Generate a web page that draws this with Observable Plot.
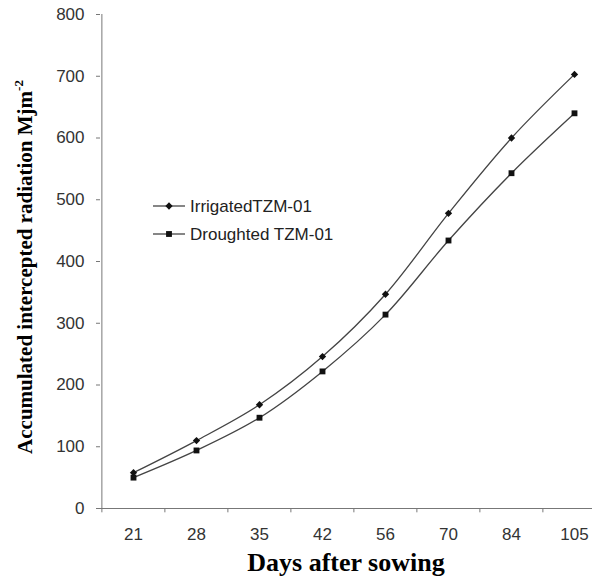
<!DOCTYPE html>
<html>
<head>
<meta charset="utf-8">
<script src="https://cdn.jsdelivr.net/npm/d3@7"></script>
<script src="https://cdn.jsdelivr.net/npm/@observablehq/plot@0.6"></script>
<style>
  html, body { margin: 0; padding: 0; background: #fff; }
  #chart { width: 592px; height: 584px; position: relative; }
</style>
</head>
<body>
<div id="chart"></div>
<script>
// ---- data ----
const days = ["21", "28", "35", "42", "56", "70", "84", "105"];
const seriesNames = ["IrrigatedTZM-01", "Droughted TZM-01"];
const irrigated = [58, 110, 168, 246, 347, 478, 600, 703];
const droughted = [50, 94, 147, 222, 314, 434, 543, 640];
const yTicks = [0, 100, 200, 300, 400, 500, 600, 700, 800];
const xTitle = "Days after sowing";
const yTitle = "Accumulated intercepted radiation Mjm";
const yTitleSup = "-2";

const data = [];
days.forEach((d, i) => {
  data.push({day: d, value: irrigated[i], series: seriesNames[0]});
  data.push({day: d, value: droughted[i], series: seriesNames[1]});
});

const W = 592, H = 584;
const xRange = [100, 606];
const step = (xRange[1] - xRange[0]) / days.length;
const symbols = ["diamond2", "square"];

const chart = Plot.plot({
  width: W,
  height: H,
  marginLeft: 100,
  marginRight: 0,
  marginTop: 14,
  marginBottom: 76,
  style: {fontFamily: "'Liberation Sans', Arial, sans-serif", color: "#333", background: "#fff"},
  x: {type: "point", domain: days, range: xRange, padding: 0.5},
  y: {domain: [0, 800]},
  symbol: {domain: seriesNames, range: symbols},
  marks: [
    Plot.axisY({ticks: yTicks, tickSize: 4, tickPadding: 12, fontSize: 17, label: null, stroke: "#777", fill: "#333"}),
    Plot.axisX({tickSize: 0, tickPadding: 19, fontSize: 17, label: null, fill: "#333"}),
    // x boundary ticks (Excel style, between categories)
    Plot.ruleX(days, {x: d => d, dx: -step / 2, y1: 0, y2: -7, stroke: "#777", strokeWidth: 1}),
    // y axis line
    Plot.ruleX([days[0]], {dx: -step / 2, stroke: "#777", strokeWidth: 1}),
    // x axis line
    Plot.ruleY([0], {stroke: "#777", strokeWidth: 1}),
    Plot.line(data, {x: "day", y: "value", z: "series", curve: "catmull-rom", stroke: "#444", strokeWidth: 1.3}),
    Plot.dot(data, {x: "day", y: "value", symbol: "series", r: 3.3, fill: "#111", stroke: "none"})
  ]
});

document.getElementById("chart").appendChild(chart);

const svg = d3.select(chart);

// legend
const legend = svg.append("g")
  .attr("font-family", "'Liberation Sans', Arial, sans-serif")
  .attr("text-anchor", "start");
const legendRows = [206, 234];
seriesNames.forEach((name, i) => {
  const g = legend.append("g").attr("transform", `translate(0,${legendRows[i]})`);
  g.append("line").attr("x1", 153).attr("x2", 185).attr("y1", 0).attr("y2", 0)
    .attr("stroke", "#444").attr("stroke-width", 1.3);
  const sym = i === 0 ? d3.symbolDiamond2 : d3.symbolSquare;
  g.append("path").attr("d", d3.symbol(sym, 3.3 * 3.3 * Math.PI)())
    .attr("transform", "translate(169,0)").attr("fill", "#111");
  g.append("text").attr("x", 190).attr("y", 0).attr("dy", "0.35em")
    .attr("text-anchor", "start")
    .attr("font-size", 17).attr("fill", "#222").text(name);
});

// axis titles
svg.append("text")
  .attr("x", 346).attr("y", 571)
  .attr("text-anchor", "middle")
  .attr("font-family", "'Liberation Serif', 'Times New Roman', serif")
  .attr("font-weight", "bold").attr("font-size", 26).attr("fill", "#000")
  .text(xTitle);

const yt = svg.append("text")
  .attr("transform", "translate(32,267) rotate(-90)")
  .attr("text-anchor", "middle")
  .attr("font-family", "'Liberation Serif', 'Times New Roman', serif")
  .attr("font-weight", "bold").attr("font-size", 21).attr("fill", "#000");
yt.append("tspan").text(yTitle);
yt.append("tspan").attr("font-size", 13).attr("dy", -9).text(yTitleSup);
</script>
</body>
</html>
